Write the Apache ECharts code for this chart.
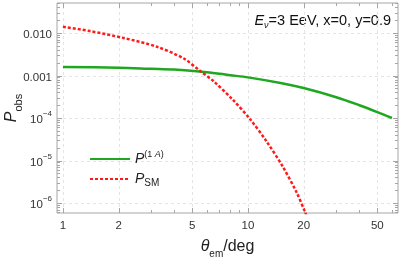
<!DOCTYPE html>
<html><head><meta charset="utf-8">
<script src="https://cdn.jsdelivr.net/npm/echarts@6/dist/echarts.min.js"></script>
<style>html,body{margin:0;padding:0;background:#fff}#c{width:403px;height:257px}</style>
</head><body><div id="c"></div>
<script>
// ---- data ----
const theta1A = [1, 2, 3, 4, 6, 8, 10, 15, 20, 30, 40, 50, 60];
const p1A = [1.585e-3, 1.53e-3, 1.44e-3, 1.38e-3, 1.20e-3, 1.02e-3, 9.04e-4, 6.67e-4, 5.07e-4, 3.09e-4, 2.0e-4, 1.38e-4, 1.0e-4];
const thetaSM = [1, 1.4, 2.13, 3.2, 4.5, 5.5, 6.5, 8.3, 10.25, 12.6, 15.5, 18.3, 20.3, 21];
const pSM = [0.01406, 0.01109, 0.00762, 0.00479, 0.00251, 0.00129, 0.000741, 0.000266, 9.44e-5, 2.82e-5, 6.92e-6, 1.79e-6, 6.31e-7, 4.37e-7];
const xTickLabels = [1, 2, 5, 10, 20, 50];
const xMinorTicks = [3, 4, 6, 7, 8, 9, 30, 40, 60];
const yTickValues = [1e-6, 1e-5, 1e-4, 1e-3, 1e-2];
const yTickLabels = ['10^-6', '10^-5', '10^-4', '0.001', '0.010'];
const seriesNames = ['P^(1A)', 'P_SM'];

// ---- layout/style ----
const xMin = 0.929, xMax = 64.7, yMin = 5.82e-7, yMax = 0.0508;
const frameColor = '#a6a6a6', gridColor = '#e4e4e4', textColor = '#333';
const FF = '"Liberation Sans", Arial, sans-serif';

const yMinor = [];
for (let e = -7; e <= -2; e++) for (let m = 2; m <= 9; m++) {
  const v = m * Math.pow(10, e);
  if (v > yMin && v < yMax) yMinor.push(v);
}
const xAllTicks = xTickLabels.concat(xMinorTicks);
const yAllTicks = yTickValues.concat(yMinor);

function isMajor(arr, v) { return arr.some(t => Math.abs(Math.log10(t) - Math.log10(v)) < 1e-9); }

function xTickItem(params, api) {
  const v = api.value(0);
  const major = isMajor(xTickLabels, v);
  const b = api.coord([v, yMin]), t = api.coord([v, yMax]);
  const x = Math.round(b[0]) + 0.5;
  const L = major ? 5 : 3;
  const ch = [
    {type: 'line', shape: {x1: x, y1: b[1], x2: x, y2: b[1] - L}, style: {stroke: frameColor, lineWidth: 1}},
    {type: 'line', shape: {x1: x, y1: t[1], x2: x, y2: t[1] + L}, style: {stroke: frameColor, lineWidth: 1}}
  ];
  if (major) {
    ch.unshift({type: 'line', shape: {x1: x, y1: b[1], x2: x, y2: t[1]}, style: {stroke: gridColor, lineWidth: 1, lineDash: [3, 3]}});
    ch.push({type: 'text', x: b[0], y: b[1] + 7, style: {text: String(v), align: 'center', verticalAlign: 'top', fill: textColor, fontSize: 11.5, fontFamily: FF}});
  }
  return {type: 'group', children: ch};
}
function yTickItem(params, api) {
  const v = api.value(1);
  const major = isMajor(yTickValues, v);
  const l = api.coord([xMin, v]), r = api.coord([xMax, v]);
  const y = Math.round(l[1]) + 0.5;
  const L = major ? 5 : 3;
  const ch = [
    {type: 'line', shape: {x1: l[0], y1: y, x2: l[0] + L, y2: y}, style: {stroke: frameColor, lineWidth: 1}},
    {type: 'line', shape: {x1: r[0], y1: y, x2: r[0] - L, y2: y}, style: {stroke: frameColor, lineWidth: 1}}
  ];
  if (major) ch.unshift({type: 'line', shape: {x1: l[0], y1: y, x2: r[0], y2: y}, style: {stroke: gridColor, lineWidth: 1, lineDash: [3, 3]}});
  return {type: 'group', children: ch};
}

const chart = echarts.init(document.getElementById('c'), null, {renderer: 'canvas'});
chart.setOption({
  animation: false,
  backgroundColor: '#fff',
  grid: {left: 57, top: 3, right: 5, bottom: 44, containLabel: false, outerBoundsMode: 'none',
         show: true, borderColor: frameColor, borderWidth: 1, backgroundColor: 'transparent'},
  xAxis: {
    type: 'log', logBase: 10, min: xMin, max: xMax,
    axisLine: {show: false}, axisTick: {show: false}, axisLabel: {show: false}, splitLine: {show: false},
    name: '{i|θ}{s|em}{n|/deg}', nameLocation: 'middle', nameGap: 26, nameMoveOverlap: false,
    nameTextStyle: {rich: {
      i: {fontSize: 16, fontStyle: 'italic', fontFamily: FF, color: '#222', lineHeight: 20, verticalAlign: 'top'},
      s: {fontSize: 10, fontFamily: FF, color: '#222', lineHeight: 20, verticalAlign: 'bottom'},
      n: {fontSize: 16, fontFamily: FF, color: '#222', lineHeight: 20, verticalAlign: 'top'}
    }}
  },
  yAxis: {
    type: 'log', logBase: 10, min: yMin, max: yMax,
    axisLine: {show: false}, axisTick: {show: false}, splitLine: {show: false},
    axisLabel: {
      margin: 5, color: textColor, fontSize: 11.5, fontFamily: FF,
      formatter: function (v) {
        const i = yTickValues.findIndex(t => Math.abs(Math.log10(t) - Math.log10(v)) < 1e-6);
        if (i < 0) return '';
        const s = yTickLabels[i];
        if (s.indexOf('^') >= 0) {
          const p = s.split('^');
          return '{b|' + p[0] + '}{s|' + p[1].replace('-', '\u2212') + '}';
        }
        return '{b|' + s + '}';
      },
      rich: {
        b: {fontSize: 11.5, fontFamily: FF, color: textColor, lineHeight: 16, verticalAlign: 'bottom'},
        s: {fontSize: 8, fontFamily: FF, color: textColor, lineHeight: 16, verticalAlign: 'top'}
      }
    },
    name: '{i|P}{s|obs}', nameLocation: 'middle', nameGap: 33, nameRotate: 90, nameMoveOverlap: false,
    nameTextStyle: {rich: {
      i: {fontSize: 16, fontStyle: 'italic', fontFamily: FF, color: '#222', lineHeight: 20, verticalAlign: 'top'},
      s: {fontSize: 11, fontFamily: FF, color: '#222', lineHeight: 20, verticalAlign: 'bottom'}
    }}
  },
  legend: {
    orient: 'vertical', left: 84, top: 145, itemWidth: 40, itemHeight: 14, itemGap: 6,
    data: seriesNames,
    itemStyle: {opacity: 0},
    formatter: function (n) {
      if (n === seriesNames[0]) return '{i|P}{s|(1 }{si|A}{s|)}';
      return '{i|P}{b|SM}';
    },
    textStyle: {rich: {
      i: {fontSize: 14, fontStyle: 'italic', fontFamily: FF, color: '#222', lineHeight: 18, verticalAlign: 'middle'},
      s: {fontSize: 9, fontFamily: FF, color: '#222', lineHeight: 18, verticalAlign: 'top'},
      si: {fontSize: 9, fontStyle: 'italic', fontFamily: FF, color: '#222', lineHeight: 18, verticalAlign: 'top'},
      b: {fontSize: 10, fontFamily: FF, color: '#222', lineHeight: 18, verticalAlign: 'bottom'}
    }}
  },
  graphic: [{
    type: 'text', right: 12, top: 13,
    style: {
      text: '{i|E}{v|ν}{n|=3 EeV, x=0, y=0.9}',
      rich: {
        i: {fontSize: 14.5, fontStyle: 'italic', fontFamily: FF, fill: '#111', lineHeight: 18, verticalAlign: 'middle'},
        v: {fontSize: 9, fontStyle: 'italic', fontFamily: FF, fill: '#111', lineHeight: 18, verticalAlign: 'bottom'},
        n: {fontSize: 14.5, fontFamily: FF, fill: '#111', lineHeight: 18, verticalAlign: 'middle'}
      }
    }
  }],
  series: [
    {type: 'custom', silent: true, z: 1, clip: false, renderItem: xTickItem, data: xAllTicks.map(v => [v, yMin]), encode: {x: 0, y: 1}},
    {type: 'custom', silent: true, z: 1, clip: false, renderItem: yTickItem, data: yAllTicks.map(v => [xMin, v]), encode: {x: 0, y: 1}},
    {name: seriesNames[0], type: 'line', smooth: 0.3, symbol: 'none', z: 3, clip: true,
     data: theta1A.map((t, i) => [t, p1A[i]]), lineStyle: {color: '#1fa71f', width: 2.5}, itemStyle: {color: '#1fa71f'}},
    {name: seriesNames[1], type: 'line', smooth: 0.3, symbol: 'none', z: 4, clip: true,
     data: thetaSM.map((t, i) => [t, pSM[i]]), lineStyle: {color: '#ff1a1a', width: 2.5, type: [3, 2]}, itemStyle: {color: '#ff1a1a'}}
  ]
});
</script></body></html>
